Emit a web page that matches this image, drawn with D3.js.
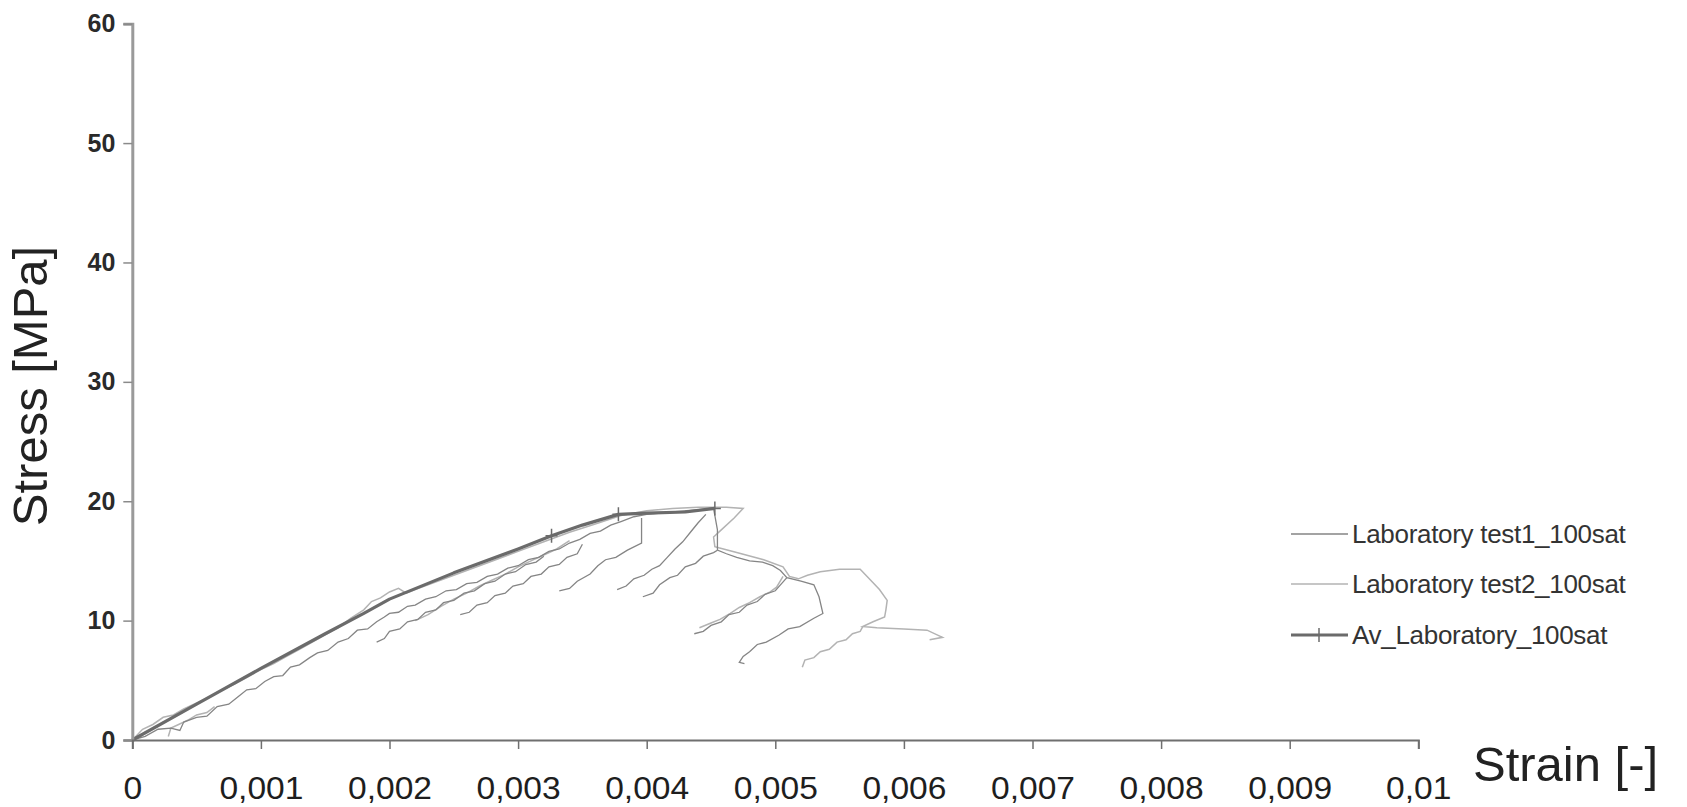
<!DOCTYPE html>
<html>
<head>
<meta charset="utf-8">
<script src="https://cdn.jsdelivr.net/npm/d3@7"></script>
<style>
  html, body { margin: 0; padding: 0; background: #fff; }
  svg { display: block; }
</style>
</head>
<body>
<svg id="chart" width="1687" height="807"></svg>
<script>
// ---------------- DATA ----------------
const xTicks = [0, 0.001, 0.002, 0.003, 0.004, 0.005, 0.006, 0.007, 0.008, 0.009, 0.01];
const xTickLabels = ["0", "0,001", "0,002", "0,003", "0,004", "0,005", "0,006", "0,007", "0,008", "0,009", "0,01"];
const yTicks = [0, 10, 20, 30, 40, 50, 60];
const yTickLabels = ["0", "10", "20", "30", "40", "50", "60"];

const seriesNames = ["Laboratory test1_100sat", "Laboratory test2_100sat", "Av_Laboratory_100sat"];

// Laboratory test1 (darker grey) – main curve plus reloading branches [strain, stress]
const test1Main = [[0,0],[0.0001,0.3],[0.0002,0.9],[0.0003,1.0],[0.00037,0.8],[0.0004,1.5],[0.0005,1.9],[0.00058,2.0],[0.00066,2.8],[0.00075,3.0],[0.00082,3.6],[0.00089,4.2],[0.00096,4.3],[0.00103,4.9],[0.0011,5.3],[0.00117,5.4],[0.00123,6.1],[0.0013,6.3],[0.00138,6.9],[0.00144,7.3],[0.00152,7.5],[0.0016,8.2],[0.00168,8.5],[0.00175,9.2],[0.00183,9.3],[0.0019,9.9],[0.00196,10.3],[0.002,10.6],[0.00207,10.7],[0.00214,11.2],[0.0022,11.3],[0.00228,11.8],[0.00236,12.0],[0.00244,12.5],[0.00252,12.6],[0.0026,13.1],[0.00268,13.2],[0.00276,13.7],[0.00284,13.9],[0.00292,14.4],[0.003,14.6],[0.00308,15.1],[0.00316,15.3],[0.00324,15.8],[0.00332,16.0],[0.0034,16.5],[0.00348,16.8],[0.00356,17.3],[0.00364,17.5],[0.00372,18.0],[0.0038,18.3],[0.0039,18.7],[0.004,18.9],[0.0042,19.1],[0.0044,19.3],[0.00452,19.4],[0.00455,17.6],[0.00455,15.9],[0.00462,15.6],[0.0047,15.3],[0.0048,15.0],[0.0049,14.9],[0.00498,14.6],[0.00504,14.2],[0.00509,13.6],[0.0052,13.3],[0.0053,13.0],[0.00534,12.0],[0.00537,10.6],[0.0053,10.2],[0.00519,9.5],[0.0051,9.3],[0.00503,8.8],[0.00493,8.2],[0.00486,8.0],[0.0048,7.4],[0.00475,7.0],[0.00472,6.5],[0.00476,6.4]];
const test1Branch1 = [[0.0019,8.2],[0.00196,8.5],[0.002,9.1],[0.00208,9.3],[0.00214,9.9],[0.00222,10.1],[0.00228,10.7],[0.00236,10.9],[0.00242,11.5],[0.0025,11.7],[0.00258,12.3],[0.00266,12.5],[0.00274,13.1],[0.00282,13.3],[0.0029,13.9],[0.00298,14.1],[0.00306,14.7],[0.00314,14.9],[0.0032,15.4]];
const test1Branch2 = [[0.00255,10.5],[0.00262,10.7],[0.00268,11.3],[0.00276,11.5],[0.00282,12.1],[0.0029,12.3],[0.00296,12.9],[0.00304,13.1],[0.0031,13.7],[0.00318,13.9],[0.00324,14.5],[0.00332,14.7],[0.00338,15.3],[0.00346,15.6],[0.0035,16.4]];
const test1Branch3 = [[0.00332,12.5],[0.0034,12.7],[0.00346,13.3],[0.00356,13.9],[0.00362,14.6],[0.00368,15.1],[0.00376,15.3],[0.00385,15.9],[0.00396,16.5],[0.00396,18.6]];
const test1Branch4 = [[0.00377,12.6],[0.00384,12.9],[0.0039,13.5],[0.00398,13.8],[0.00404,14.3],[0.0041,14.6],[0.00416,15.3],[0.00422,16.0],[0.00428,16.6],[0.00434,17.4],[0.0044,18.2],[0.00446,18.9]];
const test1Branch5 = [[0.00397,12.0],[0.00405,12.3],[0.0041,13.0],[0.00418,13.6],[0.00424,13.8],[0.0043,14.5],[0.00438,14.8],[0.00444,15.4],[0.00452,15.7],[0.00455,15.9]];
const test1Branch6 = [[0.00437,8.9],[0.00444,9.1],[0.0045,9.6],[0.00458,9.9],[0.00464,10.5],[0.00472,10.7],[0.00478,11.3],[0.00486,11.6],[0.00492,12.2],[0.005,12.5],[0.00504,13.0],[0.00509,13.6]];

// Laboratory test2 (lighter grey)
const test2Main = [[0,0],[0.00008,0.9],[0.00016,1.3],[0.00024,1.9],[0.00032,2.1],[0.0004,2.6],[0.0005,3.1],[0.0006,3.6],[0.0007,4.2],[0.0008,4.7],[0.0009,5.3],[0.001,5.9],[0.0011,6.4],[0.0012,7.0],[0.0013,7.6],[0.0014,8.2],[0.0015,8.8],[0.0016,9.4],[0.0017,10.2],[0.0018,10.9],[0.00186,11.6],[0.00193,11.9],[0.002,12.4],[0.00207,12.7],[0.00213,12.3],[0.0022,12.6],[0.0023,13.0],[0.0024,13.4],[0.0026,14.2],[0.0028,15.0],[0.003,15.8],[0.0032,16.6],[0.0034,17.4],[0.0036,18.1],[0.0038,18.8],[0.004,19.2],[0.0042,19.4],[0.0044,19.5],[0.00462,19.5],[0.00475,19.4],[0.00468,18.6],[0.00458,17.6],[0.00452,17.0],[0.00453,16.2],[0.00456,16.1],[0.0047,15.7],[0.00491,15.1],[0.00506,14.5],[0.00511,13.7],[0.00518,13.5],[0.00525,13.8],[0.00535,14.1],[0.0055,14.3],[0.00566,14.3],[0.00574,13.4],[0.00581,12.6],[0.00587,11.7],[0.00586,10.9],[0.00585,10.3],[0.00576,9.9],[0.00568,9.5],[0.00579,9.4],[0.006,9.3],[0.00618,9.2],[0.0063,8.6],[0.0062,8.4]];
const test2Branch0 = [[0.00028,0.3],[0.0003,1.0],[0.00036,1.3],[0.00044,1.7],[0.0005,2.1],[0.00058,2.3],[0.00064,2.8]];
const test2Branch1 = [[0.0022,10.0],[0.0023,10.5],[0.0024,11.2],[0.0025,11.8],[0.0026,12.3],[0.0027,12.9],[0.0028,13.4],[0.0029,13.9],[0.003,14.5],[0.0031,15.0],[0.0032,15.5],[0.0033,16.0],[0.0034,16.7]];
const test2Branch2 = [[0.00521,6.1],[0.00523,6.7],[0.0053,6.9],[0.00535,7.4],[0.00542,7.6],[0.00548,8.2],[0.00555,8.4],[0.0056,8.9],[0.00566,9.1],[0.00568,9.5]];
const test2Branch3 = [[0.00441,9.4],[0.0045,9.8],[0.00457,10.1],[0.00465,10.6],[0.00472,11.1],[0.0048,11.5],[0.00488,12.0],[0.00496,12.4],[0.00501,12.8],[0.00506,13.7]];

// Average curve
const avgCurve = [[0,0],[0.0005,3.0],[0.001,6.0],[0.0015,8.9],[0.0018,10.6],[0.002,11.8],[0.0025,14.0],[0.003,16.0],[0.00326,17.1],[0.0035,18.0],[0.00378,18.9],[0.004,19.0],[0.0043,19.1],[0.00453,19.4]];
const avgMarkers = [[0.00326,17.1],[0.00378,18.9],[0.00453,19.4]];

const test1Branches = [test1Main, test1Branch1, test1Branch2, test1Branch3, test1Branch4, test1Branch5, test1Branch6];
const test2Branches = [test2Main, test2Branch0, test2Branch1, test2Branch2, test2Branch3];

// ---------------- CHART ----------------
const FONT = "Liberation Sans, Arial, sans-serif";
const svg = d3.select("#chart");
const x = d3.scaleLinear().domain([0, 0.01]).range([132.3, 1418.3]);
const y = d3.scaleLinear().domain([0, 60]).range([740, 23.7]);

const colT1 = "#858585", colT2 = "#b3b3b3", colAvg = "#6b6b6b";
const line = d3.line().x(d => x(d[0])).y(d => y(d[1]));

// test2 (light)
svg.append("g").selectAll("path").data(test2Branches).join("path")
  .attr("d", line).attr("fill", "none").attr("stroke", colT2).attr("stroke-width", 1.5);
// test1 (dark)
svg.append("g").selectAll("path").data(test1Branches).join("path")
  .attr("d", line).attr("fill", "none").attr("stroke", colT1).attr("stroke-width", 1.3);
// average
svg.append("path").datum(avgCurve).attr("d", line)
  .attr("fill", "none").attr("stroke", colAvg).attr("stroke-width", 3.2).attr("stroke-linejoin", "round");
svg.append("g").selectAll("path").data(avgMarkers).join("path")
  .attr("transform", d => `translate(${x(d[0])},${y(d[1])})`)
  .attr("d", "M0,-7V7M-6,0H6").attr("stroke", colAvg).attr("stroke-width", 1.5).attr("fill", "none");

// axes
const yAxis = d3.axisLeft(y).tickValues(yTicks).tickFormat((d, i) => yTickLabels[i]).tickSize(9).tickPadding(8);
const gy = svg.append("g").attr("transform", `translate(${x(0)},0)`).call(yAxis);
gy.select(".domain").attr("stroke", "#9a9a9a").attr("stroke-width", 3);
gy.selectAll(".tick line").attr("stroke", "#8a8a8a").attr("stroke-width", 1.5);
gy.selectAll(".tick text").attr("font-family", FONT)
  .attr("font-size", 25).attr("font-weight", "bold").attr("fill", "#2a2a2a");

const xAxis = d3.axisBottom(x).tickValues(xTicks).tickFormat((d, i) => xTickLabels[i]).tickSize(9).tickPadding(0);
const gx = svg.append("g").attr("transform", `translate(0,${y(0)})`).call(xAxis);
gx.select(".domain").attr("stroke", "#6f6f6f").attr("stroke-width", 2);
gx.selectAll(".tick line").attr("stroke", "#6f6f6f").attr("stroke-width", 1.5);
gx.selectAll(".tick text").attr("font-family", FONT)
  .attr("font-size", 32).attr("fill", "#1e1e1e")
  .attr("dy", null).attr("y", 0)
  .attr("transform", "translate(0,59) scale(1.05,1)");

// axis titles
svg.append("text").attr("transform", "translate(47,386) rotate(-90)")
  .attr("text-anchor", "middle").attr("font-family", FONT)
  .attr("font-size", 49).attr("fill", "#222").text("Stress [MPa]");
svg.append("text").attr("x", 1473).attr("y", 781)
  .attr("font-family", FONT)
  .attr("font-size", 49).attr("fill", "#222").text("Strain [-]");

// legend
const legendColors = [colT1, colT2, colAvg];
const legendWidths = [1.4, 1.6, 3.2];
const legendY = [534, 584, 635];
const lg = svg.append("g");
seriesNames.forEach((name, i) => {
  lg.append("line").attr("x1", 1291).attr("x2", 1348).attr("y1", legendY[i]).attr("y2", legendY[i])
    .attr("stroke", legendColors[i]).attr("stroke-width", legendWidths[i]);
  if (i === 2) {
    lg.append("path").attr("transform", `translate(1319,${legendY[i]})`)
      .attr("d", "M0,-7V7").attr("stroke", colAvg).attr("stroke-width", 1.5);
  }
  lg.append("text").attr("x", 1352).attr("y", legendY[i] + 9)
    .attr("font-family", FONT).attr("font-size", 26)
    .attr("letter-spacing", -0.3).attr("fill", "#333").text(name);
});
</script>
</body>
</html>
